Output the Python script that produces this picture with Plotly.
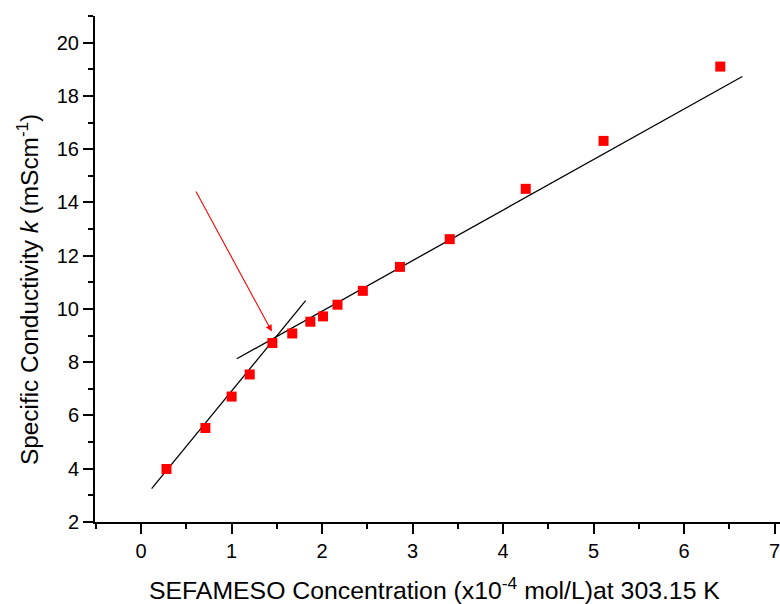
import plotly.graph_objects as go

# Data
conc = [0.28, 0.71, 1.00, 1.20, 1.45, 1.67, 1.87, 2.01, 2.17, 2.45, 2.86, 3.41, 4.25, 5.11, 6.40]
kappa = [3.99, 5.53, 6.71, 7.54, 8.72, 9.08, 9.52, 9.72, 10.16, 10.68, 11.58, 12.62, 14.51, 16.31, 19.10]

# Linear fit segments (pre- and post-CMC)
fit1_x = [0.116, 1.818]
fit1_y = [3.25, 10.31]
fit2_x = [1.057, 6.644]
fit2_y = [8.13, 18.73]

# Arrow pointing to the break (CMC)
arrow_tail = (0.597, 14.47)
arrow_head = (1.444, 9.15)

FONT = "Liberation Sans, Arial, sans-serif"

fig = go.Figure()
fig.add_trace(go.Scatter(x=fit1_x, y=fit1_y, mode="lines",
                         line=dict(color="black", width=1.3), showlegend=False))
fig.add_trace(go.Scatter(x=fit2_x, y=fit2_y, mode="lines",
                         line=dict(color="black", width=1.3), showlegend=False))
fig.add_trace(go.Scatter(x=conc, y=kappa, mode="markers",
                         marker=dict(symbol="square", size=10, color="#ff0000",
                                     line=dict(width=0)),
                         showlegend=False))

fig.add_annotation(x=arrow_head[0], y=arrow_head[1], ax=arrow_tail[0], ay=arrow_tail[1],
                   xref="x", yref="y", axref="x", ayref="y", text="",
                   showarrow=True, arrowhead=2, arrowsize=1.2, arrowwidth=1.1,
                   arrowcolor="#ff0000", standoff=0, startstandoff=0)

# Axis titles as annotations for precise placement
fig.add_annotation(text="SEFAMESO Concentration (x10<sup>-4</sup> mol/L)at 303.15 K",
                   xref="paper", yref="paper", x=0.4956, y=-0.132,
                   xanchor="center", yanchor="middle", showarrow=False,
                   font=dict(family=FONT, size=24.8, color="black"))
fig.add_annotation(text="Specific Conductivity <i>k</i> (mScm<sup>-1</sup>)",
                   xref="paper", yref="paper", x=-0.098, y=0.46,
                   xanchor="center", yanchor="middle", showarrow=False, textangle=-90,
                   font=dict(family=FONT, size=24.4, color="black"))

axis_common = dict(showgrid=False, zeroline=False, showline=True, linecolor="black",
                   linewidth=2, ticks="outside", ticklen=10, tickwidth=2, tickcolor="black",
                   tickfont=dict(family=FONT, size=20, color="black"), mirror=False,
                   ticklabeloverflow="allow")

fig.update_xaxes(range=[-0.51, 7.06], tick0=0, dtick=1,
                 minor=dict(ticks="outside", ticklen=5, tickwidth=2, tickcolor="black", dtick=0.5, tick0=0),
                 **axis_common)
fig.update_yaxes(range=[2, 21.0], tick0=2, dtick=2,
                 minor=dict(ticks="outside", ticklen=5, tickwidth=2, tickcolor="black", dtick=1, tick0=2),
                 **axis_common)

fig.update_layout(width=780, height=604, plot_bgcolor="white", paper_bgcolor="white",
                  margin=dict(l=95, r=0, t=16, b=82, autoexpand=False),
                  font=dict(family=FONT, color="black"))

fig.write_html("out.html")
